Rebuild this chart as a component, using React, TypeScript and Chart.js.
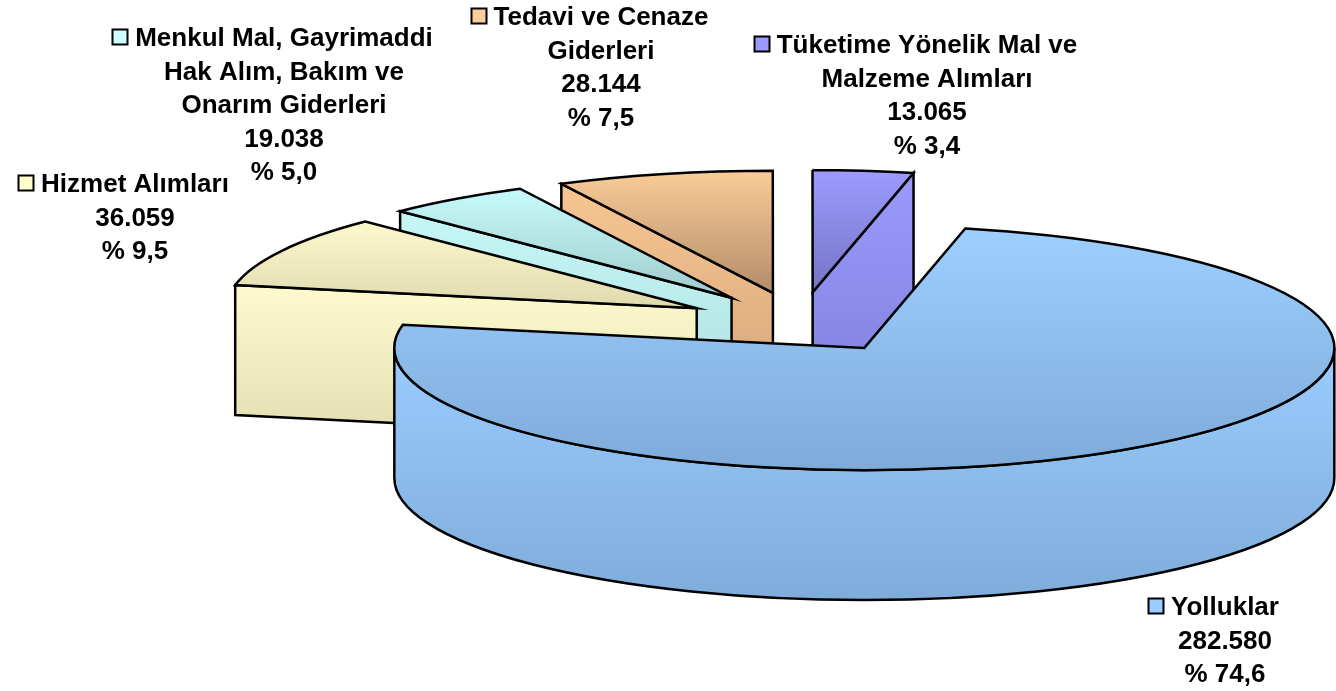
import React, { useEffect, useRef } from "react";
import { Chart, registerables } from "chart.js";

Chart.register(...registerables);

// ---- data ----
const CATEGORIES = [
  "Yolluklar",
  "Hizmet Alımları",
  "Menkul Mal, Gayrimaddi Hak Alım, Bakım ve Onarım Giderleri",
  "Tedavi ve Cenaze Giderleri",
  "Tüketime Yönelik Mal ve Malzeme Alımları",
];
const LABEL_LINES = [
  ["Yolluklar"],
  ["Hizmet Alımları"],
  ["Menkul Mal, Gayrimaddi", "Hak Alım, Bakım ve", "Onarım Giderleri"],
  ["Tedavi ve Cenaze", "Giderleri"],
  ["Tüketime Yönelik Mal ve", "Malzeme Alımları"],
];
const VALUES = [282580, 36059, 19038, 28144, 13065];
const PERCENTS = [74.6, 9.5, 5.0, 7.5, 3.4];

// ---- styles ----
const COLORS = ["#99CCFF", "#FFFFCC", "#CCFFFF", "#FFCC99", "#9999FF"];
const TOP_LIGHT = ["#9DCFFF", "#FCFACC", "#C6FAFA", "#FACC98", "#9C9CFF"];
const TOP_DARK = ["#7EABD9", "#DEDAAE", "#A0CCCC", "#B48C6A", "#7474C4"];
const WALL_LIGHT = ["#9ACCFE", "#FDFBCD", "#C4F7F7", "#F8C692", "#9A9AFE"];
const WALL_DARK = ["#7FACDA", "#E2DEB2", "#AEDCDC", "#D2A27A", "#7E7ED8"];
const LINE_W = 2.5;

// ---- 3D projection / layout ----
const W = 1336;
const H = 691;
const X0 = 800;
const Y0 = 322.5;
const RADIUS = 470;
const TILT = 0.26;
const DEPTH = 130;
const EXPLODE = 117;
const ROTATION = 12.4;

const FONT_SIZE = 26;
const LINE_H = 33.5;
const LABEL_POS: [number, number][] = [
  [1225, 615],
  [135, 192],
  [284, 46],
  [601, 25],
  [927, 53],
];
const KEY = 15;
const KEY_GAP = 8;

function fmtValue(v: number) {
  return String(v).replace(/\B(?=(\d{3})+(?!\d))/g, ".");
}
function fmtPct(p: number) {
  return "% " + p.toFixed(1).replace(".", ",");
}

function linGrad(ctx: CanvasRenderingContext2D, y0: number, y1: number, c0: string, c1: string) {
  const g = ctx.createLinearGradient(0, y0, 0, y1);
  g.addColorStop(0, c0);
  g.addColorStop(1, c1);
  return g;
}

function drawArcPatched(ctx: any, arc: any, fill: any, base: DOMMatrix) {
  const of = CanvasRenderingContext2D.prototype.fill;
  const os = CanvasRenderingContext2D.prototype.stroke;
  ctx.fill = function (...args: any[]) {
    this.fillStyle = fill;
    return of.apply(this, args);
  };
  ctx.stroke = function (...args: any[]) {
    this.save();
    this.setTransform(base);
    this.lineWidth = LINE_W;
    this.lineJoin = "miter";
    os.apply(this, args);
    this.restore();
  };
  try {
    arc.draw(ctx);
  } finally {
    delete ctx.fill;
    delete ctx.stroke;
  }
}

function sinRange(a0: number, a1: number) {
  let mn = Math.min(0, Math.sin(a0), Math.sin(a1));
  let mx = Math.max(0, Math.sin(a0), Math.sin(a1));
  for (let k = -2; k <= 2; k++) {
    const up = Math.PI / 2 + 2 * Math.PI * k;
    const dn = -Math.PI / 2 + 2 * Math.PI * k;
    if (up > a0 && up < a1) mx = 1;
    if (dn > a0 && dn < a1) mn = -1;
  }
  return [mn, mx];
}

const pie3d = {
  id: "pie3d",
  beforeDatasetsDraw(chart: any) {
    const ctx: CanvasRenderingContext2D = chart.ctx;
    const arcs = chart.getDatasetMeta(0).data as any[];
    const base = ctx.getTransform();
    const order = arcs
      .map((_, i) => i)
      .sort((i, j) => {
        const mi = (arcs[i].startAngle + arcs[i].endAngle) / 2;
        const mj = (arcs[j].startAngle + arcs[j].endAngle) / 2;
        return Math.sin(mi) - Math.sin(mj);
      });
    for (const i of order) {
      const arc = arcs[i];
      const { x: cx, y: cy, startAngle: a0, endAngle: a1, outerRadius: R } = arc;
      const m = (a0 + a1) / 2;
      const sx = X0 + Math.cos(m) * EXPLODE;
      const sy = Y0 + Math.sin(m) * EXPLODE * TILT;
      const ry = R * TILT;

      ctx.save();
      ctx.setTransform(base);
      ctx.lineWidth = LINE_W;
      ctx.strokeStyle = "#000";
      ctx.lineJoin = "miter";

      // radial cut faces facing the viewer
      const faces: number[] = [];
      if (Math.cos(a0) < -0.01) faces.push(a0);
      if (Math.cos(a1) > 0.01) faces.push(a1);
      for (const a of faces) {
        const px = sx + R * Math.cos(a);
        const py = sy + ry * Math.sin(a);
        ctx.beginPath();
        ctx.moveTo(sx, sy);
        ctx.lineTo(px, py);
        ctx.lineTo(px, py + DEPTH);
        ctx.lineTo(sx, sy + DEPTH);
        ctx.closePath();
        ctx.fillStyle = linGrad(ctx, Math.min(sy, py), Math.max(sy, py) + DEPTH, WALL_LIGHT[i], WALL_DARK[i]);
        ctx.fill();
        ctx.stroke();
      }

      // outer curved wall (front half only)
      for (let k = -1; k <= 1; k++) {
        const lo = Math.max(a0, 2 * Math.PI * k);
        const hi = Math.min(a1, Math.PI + 2 * Math.PI * k);
        if (hi - lo > 1e-4) {
          ctx.beginPath();
          ctx.ellipse(sx, sy, R, ry, 0, lo, hi, false);
          ctx.ellipse(sx, sy + DEPTH, R, ry, 0, hi, lo, true);
          ctx.closePath();
          const top = sy + ry * Math.min(Math.sin(lo), Math.sin(hi));
          ctx.fillStyle = linGrad(ctx, top, sy + ry + DEPTH, WALL_LIGHT[i], WALL_DARK[i]);
          ctx.fill();
          ctx.stroke();
        }
      }
      ctx.restore();

      // top face, drawn by the Chart.js arc element under a tilt transform
      ctx.save();
      ctx.setTransform(base);
      ctx.translate(sx, sy);
      ctx.scale(1, TILT);
      ctx.translate(-cx, -cy);
      const [mn, mx] = sinRange(a0, a1);
      const g = linGrad(ctx, cy + R * mn, cy + R * mx, TOP_LIGHT[i], TOP_DARK[i]);
      drawArcPatched(ctx, arc, g, base);
      ctx.restore();
    }
    return false;
  },
  afterDraw(chart: any) {
    const ctx: CanvasRenderingContext2D = chart.ctx;
    ctx.save();
    ctx.font = `bold ${FONT_SIZE}px "Liberation Sans", Arial, sans-serif`;
    ctx.textAlign = "center";
    ctx.textBaseline = "alphabetic";
    for (let i = 0; i < VALUES.length; i++) {
      const lines = [...LABEL_LINES[i], fmtValue(VALUES[i]), fmtPct(PERCENTS[i])];
      const [lx, ly] = LABEL_POS[i];
      ctx.fillStyle = "#000";
      lines.forEach((t, j) => ctx.fillText(t, lx, ly + j * LINE_H));
      const w0 = ctx.measureText(lines[0]).width;
      const qx = Math.round(lx - w0 / 2 - KEY_GAP - KEY) + 0.5;
      const qy = Math.round(ly - 17) + 0.5;
      ctx.fillStyle = COLORS[i];
      ctx.fillRect(qx, qy, KEY, KEY);
      ctx.lineWidth = 2;
      ctx.strokeStyle = "#000";
      ctx.strokeRect(qx, qy, KEY, KEY);
    }
    ctx.restore();
  },
};

export default function App() {
  const ref = useRef<HTMLCanvasElement | null>(null);
  useEffect(() => {
    document.body.style.margin = "0";
    const canvas = ref.current;
    if (!canvas) return;
    const chart = new Chart(canvas, {
      type: "pie",
      data: {
        labels: CATEGORIES,
        datasets: [
          {
            data: VALUES,
            backgroundColor: COLORS,
            borderColor: "#000",
            borderWidth: LINE_W,
            borderJoinStyle: "miter",
          } as any,
        ],
      },
      options: {
        responsive: false,
        animation: false,
        rotation: ROTATION,
        radius: RADIUS,
        events: [],
        layout: { padding: 0 },
        plugins: {
          legend: { display: false },
          tooltip: { enabled: false },
        },
      } as any,
      plugins: [pie3d as any],
    });
    return () => chart.destroy();
  }, []);
  return (
    <div style={{ width: W, height: H, background: "#fff" }}>
      <canvas ref={ref} width={W} height={H} style={{ display: "block" }} />
    </div>
  );
}
